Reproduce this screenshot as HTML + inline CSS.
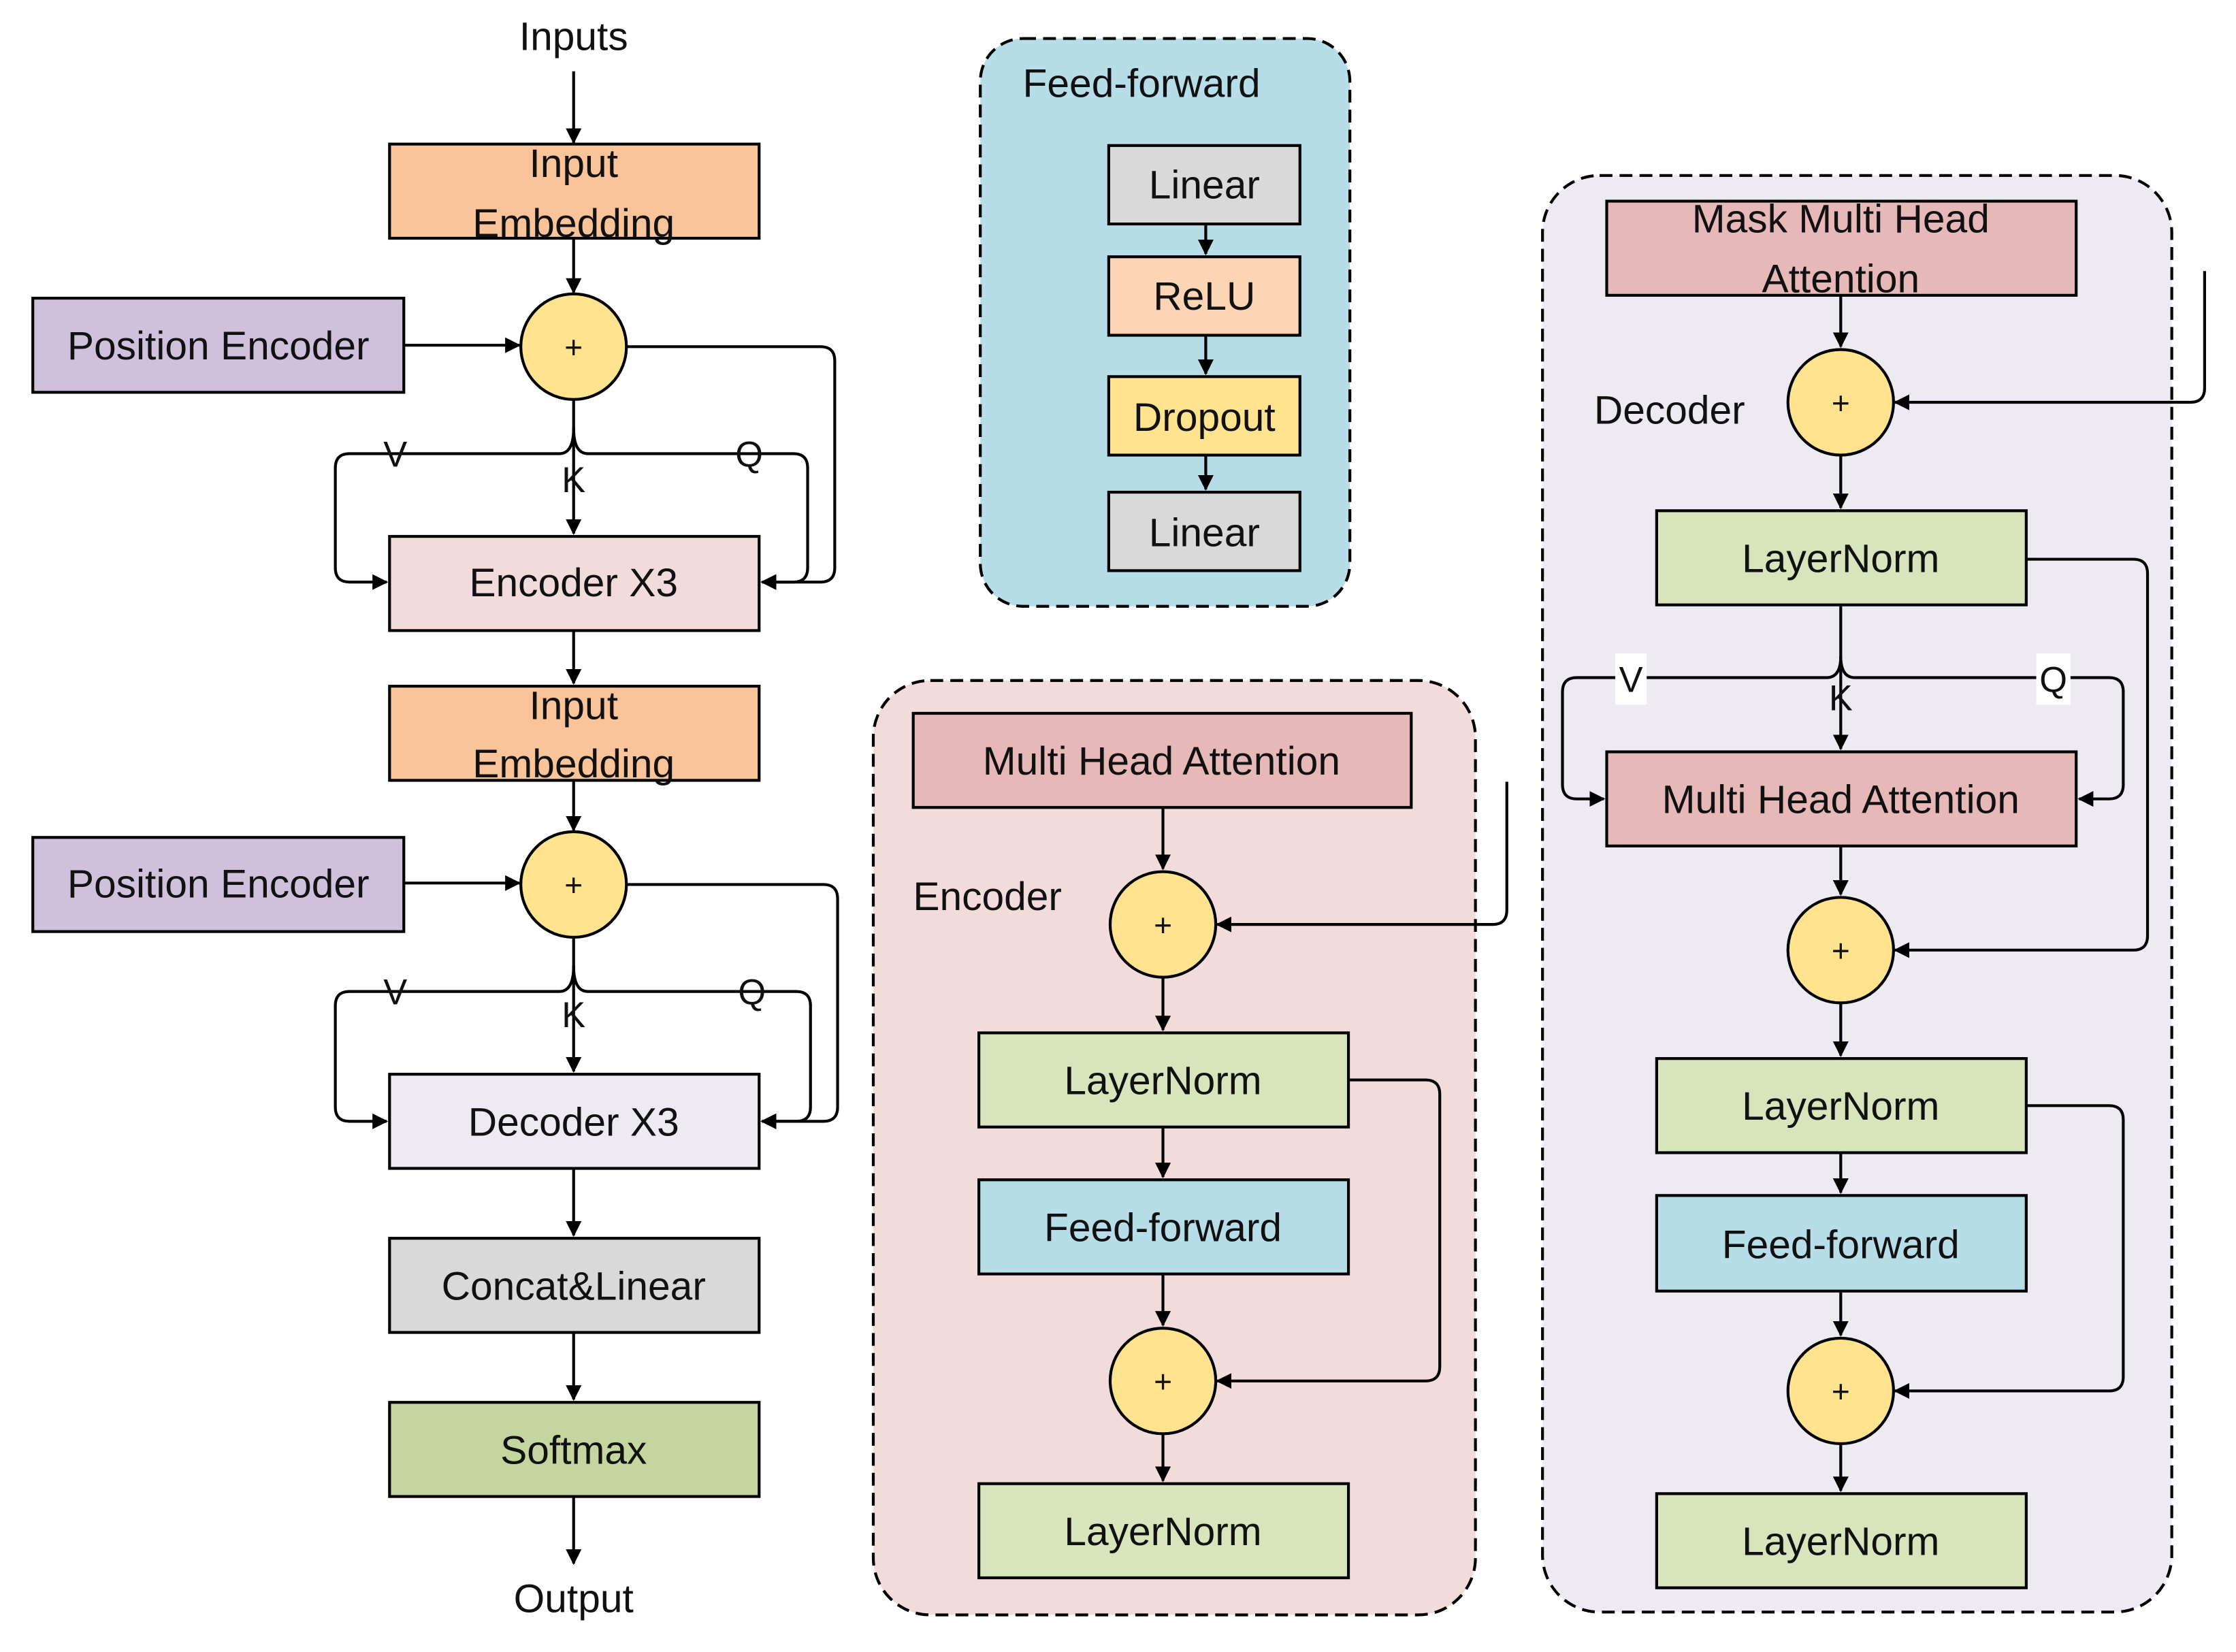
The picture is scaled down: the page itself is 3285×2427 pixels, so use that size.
<!DOCTYPE html>
<html><head><meta charset="utf-8"><style>html,body{margin:0;padding:0;background:#fff}svg{display:block}</style></head><body>
<svg xmlns="http://www.w3.org/2000/svg" width="3285" height="2427" viewBox="0 0 1567 1158" preserveAspectRatio="none" font-family="Liberation Sans, sans-serif">
<defs><marker id="a" markerWidth="11" markerHeight="11" refX="10" refY="5.5" orient="auto" markerUnits="userSpaceOnUse"><path d="M0,0 L11,5.5 L0,11 Z" fill="#000"/></marker></defs>
<g stroke="#000" stroke-width="2" fill="none">
<rect x="687" y="27" width="259" height="398" rx="30" fill="#b7dde8" stroke-dasharray="9,5"/>
<rect x="612" y="477" width="422" height="655" rx="40" fill="#f2dcdb" stroke-dasharray="9,5"/>
<rect x="1081" y="123" width="441" height="1007" rx="40" fill="#eeeaf2" stroke-dasharray="9,5"/>
</g>
<g stroke="#000" stroke-width="2">
<rect x="273" y="101" width="259" height="66" fill="#f9c499"/>
<rect x="23" y="209" width="260" height="66" fill="#cfc1db"/>
<rect x="273" y="376" width="259" height="66" fill="#f2dcdb"/>
<rect x="273" y="481" width="259" height="66" fill="#f9c499"/>
<rect x="23" y="587" width="260" height="66" fill="#cfc1db"/>
<rect x="273" y="753" width="259" height="66" fill="#eeeaf2"/>
<rect x="273" y="868" width="259" height="66" fill="#d9d9d9"/>
<rect x="273" y="983" width="259" height="66" fill="#c4d59f"/>
<rect x="777" y="102" width="134" height="55" fill="#d9d9d9"/>
<rect x="777" y="180" width="134" height="55" fill="#fcd5b5"/>
<rect x="777" y="264" width="134" height="55" fill="#ffe38f"/>
<rect x="777" y="345" width="134" height="55" fill="#d9d9d9"/>
<rect x="640" y="500" width="349" height="66" fill="#e6b8b7"/>
<rect x="686" y="724" width="259" height="66" fill="#d7e4bc"/>
<rect x="686" y="827" width="259" height="66" fill="#b7dde8"/>
<rect x="686" y="1040" width="259" height="66" fill="#d7e4bc"/>
<rect x="1126" y="141" width="329" height="66" fill="#e6b8b7"/>
<rect x="1161" y="358" width="259" height="66" fill="#d7e4bc"/>
<rect x="1126" y="527" width="329" height="66" fill="#e6b8b7"/>
<rect x="1161" y="742" width="259" height="66" fill="#d7e4bc"/>
<rect x="1161" y="838" width="259" height="67" fill="#b7dde8"/>
<rect x="1161" y="1047" width="259" height="66" fill="#d7e4bc"/>
<g fill="#ffe38f">
<circle cx="402" cy="243" r="37"/><circle cx="402" cy="620" r="37"/>
<circle cx="815" cy="648" r="37"/><circle cx="815" cy="968" r="37"/>
<circle cx="1290" cy="282" r="37"/><circle cx="1290" cy="666" r="37"/><circle cx="1290" cy="975" r="37"/>
</g>
</g>
<g stroke="#000" stroke-width="2" fill="none" marker-end="url(#a)">
<path d="M402 50V100"/><path d="M402 167V205"/><path d="M283 242H364"/>
<path d="M439 243H575Q585 243 585 253V398Q585 408 575 408H534"/>
<path d="M402 280V374"/>
<path d="M402 300Q402 318 392 318H245Q235 318 235 328V398Q235 408 245 408H271"/>
<path d="M402 300Q402 318 412 318H556Q566 318 566 328V398Q566 408 556 408H534"/>
<path d="M402 442V479"/><path d="M402 547V582"/><path d="M283 619H364"/>
<path d="M439 620H577Q587 620 587 630V776Q587 786 577 786H534"/>
<path d="M402 657V751"/>
<path d="M402 677Q402 695 392 695H245Q235 695 235 705V776Q235 786 245 786H271"/>
<path d="M402 677Q402 695 412 695H558Q568 695 568 705V776Q568 786 558 786H534"/>
<path d="M402 819V866"/><path d="M402 934V981"/><path d="M402 1049V1096"/>
<path d="M845 157V178"/><path d="M845 235V262"/><path d="M845 319V343"/>
<path d="M815 566V609"/><path d="M1056 548V638Q1056 648 1046 648H853"/>
<path d="M815 685V722"/><path d="M815 790V825"/><path d="M815 893V929"/>
<path d="M945 757H999Q1009 757 1009 767V958Q1009 968 999 968H853"/><path d="M815 1005V1038"/>
<path d="M1290 207V243"/><path d="M1545 190V272Q1545 282 1535 282H1328"/>
<path d="M1290 319V356"/>
<path d="M1420 392H1495Q1505 392 1505 402V656Q1505 666 1495 666H1328"/>
<path d="M1290 424V525"/>
<path d="M1290 460Q1290 475 1280 475H1105Q1095 475 1095 485V550Q1095 560 1105 560H1124"/>
<path d="M1290 460Q1290 475 1300 475H1478Q1488 475 1488 485V550Q1488 560 1478 560H1457"/>
<path d="M1290 593V627"/><path d="M1290 703V740"/>
<path d="M1420 775H1478Q1488 775 1488 785V965Q1488 975 1478 975H1328"/>
<path d="M1290 808V836"/><path d="M1290 905V936"/><path d="M1290 1012V1045"/>
</g>
<g font-size="28" text-anchor="middle" fill="#111">
<text x="402" y="35">Inputs</text>
<text x="402" y="124">Input</text><text x="402" y="166">Embedding</text>
<text x="153" y="252">Position Encoder</text>
<text x="402" y="418">Encoder  X3</text>
<text x="402" y="504">Input</text><text x="402" y="545">Embedding</text>
<text x="153" y="629">Position Encoder</text>
<text x="402" y="796">Decoder  X3</text>
<text x="402" y="911">Concat&amp;Linear</text>
<text x="402" y="1026">Softmax</text>
<text x="402" y="1130">Output</text>
<text x="800" y="68">Feed-forward</text>
<text x="844" y="139">Linear</text><text x="844" y="217">ReLU</text>
<text x="844" y="302">Dropout</text><text x="844" y="383">Linear</text>
<text x="814" y="543">Multi Head Attention</text>
<text x="692" y="638">Encoder</text>
<text x="815" y="767">LayerNorm</text><text x="815" y="870">Feed-forward</text><text x="815" y="1083">LayerNorm</text>
<text x="1290" y="163">Mask Multi Head</text><text x="1290" y="205">Attention</text>
<text x="1170" y="297">Decoder</text>
<text x="1290" y="401">LayerNorm</text>
<text x="1290" y="570">Multi Head Attention</text>
<text x="1290" y="785">LayerNorm</text><text x="1290" y="882">Feed-forward</text><text x="1290" y="1090">LayerNorm</text>
</g>
<g font-size="25" text-anchor="middle" fill="#111">
<text x="277" y="327">V</text><text x="402" y="345">K</text><text x="525" y="327">Q</text>
<text x="277" y="704">V</text><text x="402" y="720">K</text><text x="527" y="704">Q</text>
<rect x="1132" y="458" width="22" height="36" fill="#fff"/><rect x="1427" y="458" width="24" height="36" fill="#fff"/>
<text x="1143" y="485">V</text><text x="1290" y="498">K</text><text x="1439" y="485">Q</text>
</g>
<g font-size="22" text-anchor="middle" fill="#111">
<text x="402" y="251">+</text><text x="402" y="628">+</text>
<text x="815" y="656">+</text><text x="815" y="976">+</text>
<text x="1290" y="290">+</text><text x="1290" y="674">+</text><text x="1290" y="983">+</text>
</g>
</svg>
</body></html>
